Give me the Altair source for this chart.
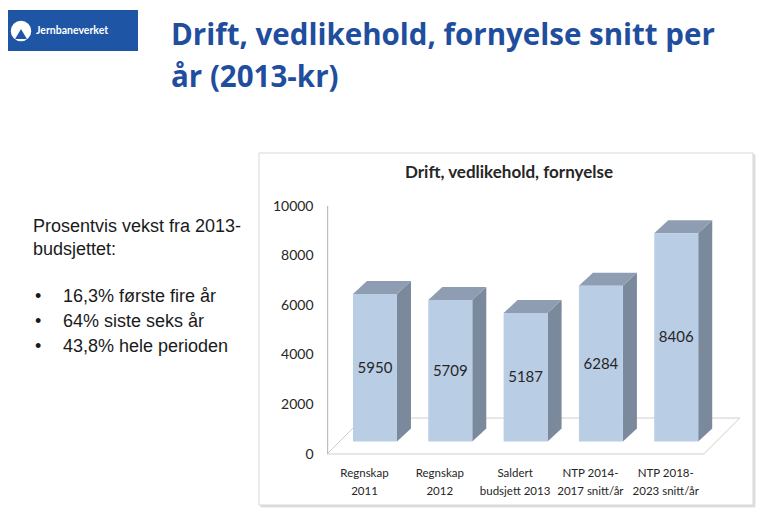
import json
import altair as alt
import pandas as pd

# ---------------- data ----------------
CATEGORIES = [
    "Regnskap\n2011",
    "Regnskap\n2012",
    "Saldert\nbudsjett 2013",
    "NTP 2014-\n2017 snitt/år",
    "NTP 2018-\n2023 snitt/år",
]
VALUES = [5950, 5709, 5187, 6284, 8406]
Y_TICKS = [0, 2000, 4000, 6000, 8000, 10000]

SLIDE_TITLE = ["Drift, vedlikehold, fornyelse snitt per", "år (2013-kr)"]
CHART_TITLE = "Drift, vedlikehold, fornyelse"
INTRO = ["Prosentvis vekst fra 2013-", "budsjettet:"]
BULLETS = ["16,3% første fire år", "64% siste seks år", "43,8% hele perioden"]
LOGO_TEXT = "Jernbaneverket"

df = pd.DataFrame({"idx": list(range(len(VALUES))), "value": VALUES})

# ---------------- 3D geometry (data units) ----------------
HALF = 0.292        # half width of a bar's front face
DX = 0.186          # depth offset of the bar, x
DY = 524            # depth offset of the bar, y
SHIFT = 500         # bars stand a little behind the floor's front edge
FLOOR_DEPTH = 1450
FLOOR_DX = 0.478
X_MIN, X_MAX = -0.637, 4.9
FLOOR_RIGHT = 4.365
Y_MIN, Y_MAX = 0, 10000
AXIS_LINE_W = 0.016  # thickness of the value-axis line, x units

W, H = 417, 248
PAD = {"left": 319, "top": 198, "right": 14, "bottom": 69}

FONT = "Lato"
TXT = "#262626"
BLUE = "#1F4E9E"

x_scale = alt.Scale(domain=[X_MIN, X_MAX], nice=False, zero=False)
y_scale = alt.Scale(domain=[Y_MIN, Y_MAX], nice=False, zero=False)

label_expr = json.dumps([c.split("\n") for c in CATEGORIES], ensure_ascii=False) + "[datum.value]"

XAXIS = alt.Axis(
    values=list(range(len(CATEGORIES))),
    labelExpr=label_expr,
    title=None,
    domain=False,
    ticks=False,
    grid=False,
    labelOffset=-11,
    labelPadding=13,
    labelFlush=False,
    labelOverlap=False,
    labelFont=FONT,
    labelFontSize=11.5,
    labelColor=TXT,
    labelLineHeight=18,
    labelBaseline="top",
    zindex=1,
)
YAXIS = alt.Axis(
    values=Y_TICKS,
    format="d",
    title=None,
    grid=False,
    ticks=False,
    domain=False,
    labelPadding=14,
    labelFont=FONT,
    labelFontSize=14,
    labelColor=TXT,
    zindex=1,
)

base = alt.Chart(df)
one = alt.Data(values=[{"k": 0}])
pair = alt.Data(values=[{"k": 0}, {"k": 1}])

# ---------------- decorations ----------------
def rect(x, x2, y, y2, **kw):
    return alt.Chart(one).mark_rect(**kw).encode(
        x=alt.value(x), x2=alt.value(x2), y=alt.value(y), y2=alt.value(y2)
    )

def text(s, x, y, **kw):
    return alt.Chart(one).mark_text(text=s, **kw).encode(x=alt.value(x), y=alt.value(y))

box_shadow1 = rect(-66, 429, -51, 302, fill="#000000", opacity=0.06)
box_shadow2 = rect(-67, 428, -52, 301, fill="#000000", opacity=0.08)
box = rect(-68, 426, -53, 299, fill="white", stroke="#D9D9D9", strokeWidth=1)

logo = rect(-327, -189, -196, -155, fill="#1F55A5")
logo_circle = alt.Chart(one).mark_point(
    shape="circle", filled=True, color="white", size=420, opacity=1
).encode(x=alt.value(-306), y=alt.value(-175))
logo_tri = alt.Chart(one).mark_point(
    shape="triangle-up", filled=True, color="#1F55A5", size=140, opacity=1
).encode(x=alt.value(-306), y=alt.value(-172))
logo_txt = text(LOGO_TEXT, -291, -175, font=FONT, fontSize=10.5, fontWeight="bold",
                color="white", align="left", baseline="middle")

title1 = text(SLIDE_TITLE[0], -156, -161, font="Open Sans", fontSize=29.5, fontWeight="bold",
              color=BLUE, align="left", baseline="alphabetic")
title2 = text(SLIDE_TITLE[1], -156, -119, font="Open Sans", fontSize=29.5, fontWeight="bold",
              color=BLUE, align="left", baseline="alphabetic")

chart_title = text(CHART_TITLE, 182, -28, font=FONT, fontSize=17, fontWeight="bold",
                   color=TXT, align="center", baseline="alphabetic")

left_layers = []
for i, s in enumerate(INTRO):
    left_layers.append(text(s, -294, 21 + 23 * i, font="Liberation Sans", fontSize=18,
                            color="#1A1A1A", align="left", baseline="middle"))
for i, s in enumerate(BULLETS):
    left_layers.append(text("•", -292, 91 + 25 * i, font="Liberation Sans", fontSize=18,
                            color="#1A1A1A", align="left", baseline="middle"))
    left_layers.append(text(s, -264, 91 + 25 * i, font="Liberation Sans", fontSize=18,
                            color="#1A1A1A", align="left", baseline="middle"))

# ---------------- chart ----------------
floor = alt.Chart(pair).transform_calculate(
    fy=f"datum.k * {FLOOR_DEPTH}",
    fx0=f"{X_MIN} + datum.k * {FLOOR_DX}",
    fx1=f"{FLOOR_RIGHT} + datum.k * {FLOOR_DX}",
).mark_area(orient="horizontal", fill="white", stroke="#CFCFCF", strokeWidth=1).encode(
    y=alt.Y("fy:Q", scale=y_scale, axis=YAXIS),
    x=alt.X("fx0:Q", scale=x_scale, axis=XAXIS, stack=False),
    x2="fx1:Q",
)

side = base.transform_calculate(k="[0, 1]").transform_flatten(["k"]).transform_calculate(
    sx=f"datum.idx + {HALF} + datum.k * {DX}",
    sy1=f"datum.value + {SHIFT} + datum.k * {DY}",
    sy0=f"{SHIFT} + datum.k * {DY}",
).mark_area(orient="vertical", color="#7A899C", opacity=1).encode(
    x=alt.X("sx:Q", scale=x_scale, axis=XAXIS),
    y=alt.Y("sy1:Q", scale=y_scale, axis=YAXIS, stack=False),
    y2="sy0:Q",
    detail="idx:N",
)

top = base.transform_calculate(k="[0, 1]").transform_flatten(["k"]).transform_calculate(
    tx0=f"datum.idx - {HALF} + datum.k * {DX}",
    tx1=f"datum.idx + {HALF} + datum.k * {DX}",
    ty=f"datum.value + {SHIFT} + datum.k * {DY}",
).mark_area(orient="horizontal", color="#8E9DB2", opacity=1).encode(
    y=alt.Y("ty:Q", scale=y_scale, axis=YAXIS),
    x=alt.X("tx0:Q", scale=x_scale, axis=XAXIS, stack=False),
    x2="tx1:Q",
    detail="idx:N",
)

front = base.transform_calculate(
    x0=f"datum.idx - {HALF}",
    x1=f"datum.idx + {HALF}",
    y0=f"{SHIFT}",
    y1=f"datum.value + {SHIFT}",
).mark_rect(color="#B9CDE5", opacity=1).encode(
    x=alt.X("x0:Q", scale=x_scale, axis=XAXIS),
    x2="x1:Q",
    y=alt.Y("y1:Q", scale=y_scale, axis=YAXIS),
    y2="y0:Q",
)

values_txt = base.transform_calculate(ly=f"datum.value / 2 + {SHIFT}").mark_text(
    font=FONT, fontSize=15, color=TXT
).encode(
    x=alt.X("idx:Q", scale=x_scale, axis=XAXIS),
    y=alt.Y("ly:Q", scale=y_scale, axis=YAXIS),
    text=alt.Text("value:Q", format="d"),
)

# vertical value-axis line, as a thin filled rectangle built from the scale extents
axis_line = alt.Chart(one).transform_calculate(
    ax0=f"{X_MIN}",
    ax1=f"{X_MIN} + {AXIS_LINE_W}",
    ay0=f"{Y_MIN}",
    ay1=f"{Y_MAX}",
).mark_rect(color="#BDBDBD", opacity=1).encode(
    x=alt.X("ax0:Q", scale=x_scale, axis=XAXIS),
    x2="ax1:Q",
    y=alt.Y("ay1:Q", scale=y_scale, axis=YAXIS),
    y2="ay0:Q",
)

chart = alt.layer(
    box_shadow1, box_shadow2, box,
    logo, logo_circle, logo_tri, logo_txt,
    title1, title2, chart_title,
    *left_layers,
    floor, side, top, front, values_txt, axis_line,
).properties(
    width=W,
    height=H,
    autosize=alt.AutoSizeParams(type="none"),
    padding=PAD,
    background="white",
).configure_view(stroke=None)

chart.save("out.html", embed_options={"renderer": "svg", "actions": False})
